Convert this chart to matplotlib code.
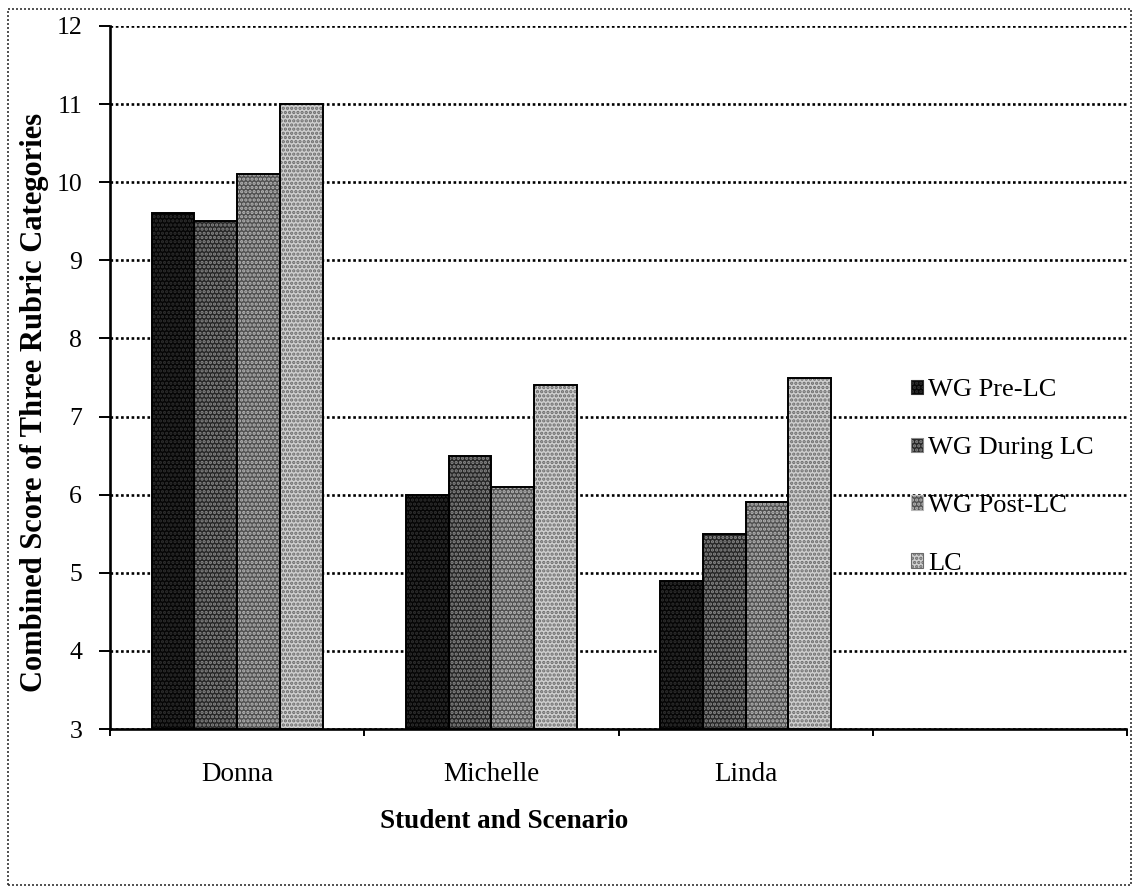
import matplotlib
matplotlib.use("Agg")
import matplotlib.pyplot as plt
from matplotlib.patches import Rectangle, Patch
import numpy as np

# Data
students = ["Donna", "Michelle", "Linda"]
series_names = ["WG Pre-LC", "WG During LC", "WG Post-LC", "LC"]
wg_pre = [9.6, 6.0, 4.9]
wg_during = [9.5, 6.5, 5.5]
wg_post = [10.1, 6.1, 5.9]
lc = [11.0, 7.4, 7.5]
y_ticks = [3, 4, 5, 6, 7, 8, 9, 10, 11, 12]

series_values = [wg_pre, wg_during, wg_post, lc]

# Halftone-like styles: (face colour, dot colour, hatch)
styles = [
    ("#050505", "#303030", "...."),
    ("#262626", "#8a8a8a", "...."),
    ("#505050", "#b8b8b8", "...."),
    ("#cfcfcf", "#6a6a6a", "...."),
]

plt.rcParams["font.family"] = ["Liberation Serif", "DejaVu Serif"]
plt.rcParams["hatch.linewidth"] = 1.6

W, H = 1133, 889
fig = plt.figure(figsize=(W / 100, H / 100), dpi=100)
ax = fig.add_axes([110 / W, 1 - 729 / H, (1127 - 110) / W, (729 - 26) / H])

n_slots = 4
x = np.arange(len(students))
bar_w = 0.168
offsets = (np.arange(4) - 1.5) * bar_w

for vals, (fc, dc, hatch), off, name in zip(series_values, styles, offsets, series_names):
    bottoms = np.full(len(vals), 3.0)
    heights = np.array(vals) - 3.0
    ax.bar(x + off, heights, bar_w, bottom=bottoms, color=fc, edgecolor=dc,
           hatch=hatch, linewidth=0, zorder=3)
    ax.bar(x + off, heights, bar_w, bottom=bottoms, fill=False, edgecolor="black",
           linewidth=1.4, zorder=4)

ax.set_xlim(-0.5, n_slots - 0.5)
ax.set_ylim(3, 12)
ax.set_yticks(y_ticks)
ax.set_yticklabels([str(t) for t in y_ticks])

# Category boundaries carry the tick marks, names sit at slot centres
ax.set_xticks(np.arange(n_slots + 1) - 0.5)
ax.set_xticklabels([""] * (n_slots + 1))
ax.set_xticks(np.arange(n_slots), minor=True)
ax.set_xticklabels(students + [""], minor=True)
ax.tick_params(axis="x", which="minor", length=0, pad=24, labelsize=19.5)
ax.tick_params(axis="x", which="major", length=5, width=1.4, direction="out")
ax.tick_params(axis="y", length=8, width=1.4, direction="out", pad=12, labelsize=18.5)

ax.grid(axis="y", linestyle=(0, (1.0, 1.0)), color="black", linewidth=1.9, zorder=0)
ax.set_axisbelow(True)

for side in ["top", "right"]:
    ax.spines[side].set_visible(False)
ax.spines["left"].set_linestyle((0, (1.0, 1.0)))
ax.spines["left"].set_linewidth(1.9)
ax.spines["bottom"].set_linestyle((0, (1.0, 1.0)))
ax.spines["bottom"].set_linewidth(1.9)

ax.set_ylabel("Combined Score of Three Rubric Categories", fontsize=22,
              fontweight="bold")
ax.yaxis.set_label_coords(-0.06, 0.465)
fig.text(504 / W, 1 - 821 / H, "Student and Scenario", fontsize=19.5,
         fontweight="bold", ha="center", va="center")

handles = [Patch(facecolor=fc, edgecolor=dc, hatch=h, linewidth=0.8)
           for fc, dc, h in styles]
leg = ax.legend(handles, series_names, loc="upper left",
                bbox_to_anchor=(898 / W, 1 - 366 / H), bbox_transform=fig.transFigure,
                frameon=False, fontsize=19, handlelength=0.45, handleheight=0.45,
                handletextpad=0.2, labelspacing=1.36, borderpad=0)

# Dotted frame around the whole chart
fig.add_artist(Rectangle((8 / W, 4 / H), (1131 - 8) / W, (885 - 9) / H,
                         transform=fig.transFigure, fill=False,
                         linestyle=(0, (1.2, 1.2)), linewidth=1.2, edgecolor="#333333"))

fig.savefig("out.png", dpi=100)
